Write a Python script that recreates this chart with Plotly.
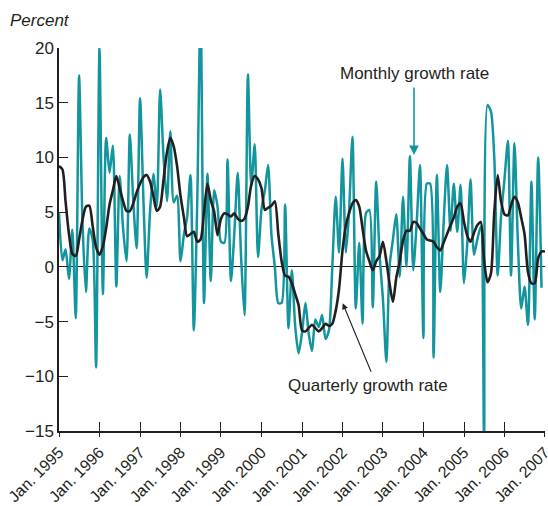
import pandas as pd
import plotly.graph_objects as go

# Monthly growth rate (percent), Jan 1995 - Dec 2006
monthly = [
    4.9, 0.6, 1.6, -1.1, 3.4, -4.7, 17.5, 4.0, -2.3, 3.5, 2.5, -9.2,
    20.0, -2.5, 11.8, 8.6, 11.1, -1.8, 8.3, 3.5, 0.5, 12.1, 6.0, 1.7,
    15.4, 6.0, -1.0, 5.0, 8.5, 5.5, 16.2, 10.0, 6.0, 12.4, 5.9, 6.5,
    0.5, 3.0, 4.5, 8.4, -5.8, 6.0, 24.0, -3.3, 8.5, -1.3, 7.0, 5.5,
    2.3, 2.2, 9.8, -1.3, 3.0, 8.6, 1.0, -4.4, 17.6, 7.4, 11.2, 0.9,
    5.2, 7.0, 9.3, 2.8, 0.0, -3.3, -3.3, 5.7, -5.6, -0.3, -5.5, -7.9,
    -6.0, -3.3, -6.0, -7.7, -4.8, -5.5, -4.4, -6.6, -5.8, 0.0, 6.4, 1.3,
    9.9, 1.3, 5.0, 11.9, -3.8, 2.2, -5.2, 4.9, 5.2, -3.7, 7.8, 1.2,
    -3.0, -8.7, 0.0, 2.5, 4.8, -0.9, 6.4, 0.0, 10.1, -0.3, 4.0, 9.3,
    -6.5, 7.6, 7.6, -8.3, 8.4, -2.3, 4.0, 9.3, 3.3, 7.6, 3.2, 7.5,
    -1.5, 2.4, 8.0, 1.1, 2.5, 3.7, -16.0, 14.8, 14.2, 10.0, -0.8, 4.6,
    8.0, 11.5, -0.8, 11.3, 2.5, -3.8, -1.8, -5.3, 7.8, -4.8, 10.0, -1.9,
]

# Quarterly growth rate (percent), Jan 1995 - Jan 2007
quarterly = [
    9.2, 8.9, 6.0, 3.0, 1.2, 1.0, 2.5, 4.3, 5.5, 5.6, 3.7, 1.8,
    1.1, 1.9, 3.5, 5.7, 7.0, 8.3, 7.2, 6.0, 5.1, 5.1, 5.8, 6.8,
    7.6, 8.2, 8.4, 7.8, 6.5, 5.1, 5.5, 8.0, 10.5, 11.8, 11.0, 9.2,
    6.5, 4.5, 2.8, 3.0, 3.2, 2.3, 2.5, 5.0, 7.6, 6.1, 5.0, 2.9,
    4.4, 4.9, 4.8, 4.6, 4.9, 4.4, 4.2, 4.4, 5.5, 7.5, 8.3, 8.0,
    7.2, 5.2, 5.4, 5.6, 6.0, 3.0, 0.5, -0.8, -0.9, -1.5, -2.5, -3.5,
    -5.8, -5.9, -5.6, -5.3, -5.6, -5.9, -5.6, -5.2, -5.4, -5.2, -4.0, -2.0,
    1.5, 3.8, 4.9, 5.8, 6.1, 5.5, 3.5, 1.5, 0.5, -0.3, 0.5, 1.0,
    2.3, 0.5, -1.5, -3.2, -1.0, 0.5, 2.4, 3.3, 3.3, 4.1, 4.0, 3.5,
    3.0, 2.5, 2.4, 2.3, 1.8, 1.5, 2.2, 3.0, 3.8, 4.5, 5.5, 5.8,
    4.1, 2.8, 2.3, 3.1, 3.8, 4.1, 0.6, -1.4, -0.6, 5.0, 8.4, 6.0,
    4.8, 4.7, 5.6, 6.4, 5.9, 4.5, 3.0, -0.5, -1.5, -1.5, 0.8, 1.4,
    1.4,
]

years = list(range(1995, 2008))
tick_dates = [f"{y}-01-01" for y in years]
tick_labels = [f"Jan. {y}" for y in years]
y_ticks = [-15, -10, -5, 0, 5, 10, 15, 20]

m_dates = pd.date_range("1995-01-01", periods=len(monthly), freq="MS")
q_dates = pd.date_range("1995-01-01", periods=len(quarterly), freq="MS")

TEAL = "#13959d"
INK = "#231f20"
FONT = "Liberation Sans, Arial, Helvetica, sans-serif"
X_RANGE = ["1995-01-01", "2007-01-01 12:00"]

fig = go.Figure()
fig.add_trace(go.Scatter(x=m_dates, y=monthly, mode="lines",
                         line=dict(color=TEAL, width=2.5, shape="spline", smoothing=0.7),
                         showlegend=False, hoverinfo="skip"))
fig.add_trace(go.Scatter(x=q_dates, y=quarterly, mode="lines",
                         line=dict(color=INK, width=2.6, shape="spline", smoothing=0.7),
                         showlegend=False, hoverinfo="skip"))
# invisible trace to activate the overlaying tick axis
fig.add_trace(go.Scatter(x=[m_dates[0]], y=[None], xaxis="x2", yaxis="y",
                         mode="lines", showlegend=False, hoverinfo="skip"))

W, H = 548, 506
L, R, T, B = 59, 3, 48, 75
pw, ph = W - L - R, H - T - B


def px(xp):
    return (xp - L) / pw


def py(yp):
    return (H - B - yp) / ph


fig.update_layout(
    width=W, height=H,
    margin=dict(l=L, r=R, t=T, b=B, autoexpand=False),
    plot_bgcolor="white", paper_bgcolor="white",
    font=dict(family=FONT, color=INK, size=17),
    xaxis=dict(
        type="date", range=X_RANGE, automargin=False,
        tickmode="array", tickvals=tick_dates, ticktext=tick_labels, tickangle=-45,
        ticklabeloverflow="allow",
        ticks="outside", ticklen=4, tickwidth=1.3, tickcolor=INK,
        showline=True, linecolor=INK, linewidth=1.5,
        showgrid=False, zeroline=False,
        tickfont=dict(size=16, family=FONT, color=INK),
    ),
    xaxis2=dict(
        type="date", range=X_RANGE, overlaying="x",
        automargin=False, matches="x",
        tickmode="array", tickvals=tick_dates, showticklabels=False,
        ticks="inside", ticklen=9, tickwidth=1.3, tickcolor=INK,
        showline=False, showgrid=False, zeroline=False, side="bottom",
    ),
    yaxis=dict(
        range=[-15, 20], tickvals=y_ticks, automargin=False,
        ticks="inside", ticklen=9, tickwidth=1.3, tickcolor=INK,
        showline=True, linecolor=INK, linewidth=1.5,
        showgrid=False, zeroline=True, zerolinecolor=INK, zerolinewidth=1.2,
        tickfont=dict(size=17, family=FONT, color=INK),
    ),
    annotations=[
        dict(text="<i>Percent</i>", xref="paper", yref="paper",
             x=px(8), y=py(20), xanchor="left", yanchor="middle",
             showarrow=False, font=dict(size=17, family=FONT, color=INK)),
        dict(text="Monthly growth rate", xref="paper", yref="paper",
             x=px(414), y=py(73), xanchor="center", yanchor="middle",
             showarrow=False, font=dict(size=17, family=FONT, color=INK)),
        dict(text="", xref="paper", yref="paper", x=px(414), y=py(155),
             ax=0, ay=-69, showarrow=True, arrowhead=2, arrowsize=1.2,
             arrowwidth=1.6, arrowcolor=TEAL),
        dict(text="Quarterly growth rate", xref="paper", yref="paper",
             x=px(368), y=py(385), xanchor="center", yanchor="middle",
             showarrow=False, font=dict(size=17, family=FONT, color=INK)),
        dict(text="", xref="paper", yref="paper", x=px(342.7), y=py(303.3),
             ax=29, ay=70, showarrow=True, arrowhead=2, arrowsize=1.1,
             arrowwidth=1.1, arrowcolor=INK),
    ],
)

fig.write_html("out.html", config={"displayModeBar": False},
               post_script="document.body.style.margin='0';")
